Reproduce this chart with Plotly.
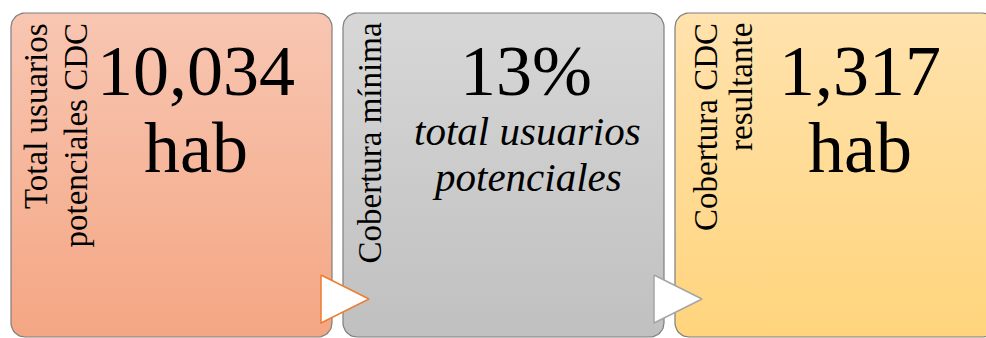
import numpy as np
import plotly.graph_objects as go

# diagram content
labels = [["Total usuarios", "potenciales CDC"],
          ["Cobertura mínima"],
          ["Cobertura CDC", "resultante"]]
values = ["10,034", "13%", "1,317"]
units = [["hab"], ["total usuarios", "potenciales"], ["hab"]]
unit_italic = [False, True, False]

# layout / style
W, H = 986, 338
box_left = [11, 343, 675]
box_w = 321
box_top, box_bottom = 13, 337
grad = [("#F8C6B2", "#F4A683"), ("#D7D7D7", "#C0C0C0"), ("#FFE2AD", "#FFD47C")]
arrow_x = [321, 654]
arrow_col = ["#ED7D31", "#A5A5A5"]
label_x = [[36, 75], [369], [706, 741]]
value_cx = [196, 526, 860]
FONT = "Liberation Serif, Times New Roman, serif"


def rounded_rect(x0, y0, x1, y1, r, n=14):
    xs, ys = [], []
    for cx, cy, a0 in [(x0 + r, y0 + r, 180), (x1 - r, y0 + r, 270),
                       (x1 - r, y1 - r, 0), (x0 + r, y1 - r, 90)]:
        t = np.radians(np.linspace(a0, a0 + 90, n))
        xs += list(cx + r * np.cos(t))
        ys += list(cy + r * np.sin(t))
    return xs + [xs[0]], ys + [ys[0]]


fig = go.Figure()

for i, x0 in enumerate(box_left):
    xs, ys = rounded_rect(x0, box_top, x0 + box_w, box_bottom, 14)
    fig.add_trace(go.Scatter(
        x=xs, y=ys, mode="lines", fill="toself",
        line=dict(color="#7F7F7F", width=1.2),
        fillgradient=dict(type="vertical",
                          colorscale=[[0, grad[i][0]], [1, grad[i][1]]],
                          start=box_top, stop=box_bottom),
        hoverinfo="skip", showlegend=False))

for x0, col in zip(arrow_x, arrow_col):
    fig.add_trace(go.Scatter(
        x=[x0, x0, x0 + 48, x0], y=[275, 323, 299, 275], mode="lines",
        fill="toself", fillcolor="white", line=dict(color=col, width=1.5),
        hoverinfo="skip", showlegend=False))

# vertical labels
for i, lines in enumerate(labels):
    for j, txt in enumerate(lines):
        fig.add_annotation(x=label_x[i][j], y=21, text=txt, textangle=-90,
                           xanchor="center", yanchor="top", showarrow=False,
                           font=dict(family=FONT, size=33, color="black"))

# big values and units
for i, v in enumerate(values):
    fig.add_annotation(x=value_cx[i], y=71, text=v, xanchor="center",
                       yanchor="middle", showarrow=False,
                       font=dict(family=FONT, size=72, color="black"))
    if unit_italic[i]:
        for j, u in enumerate(units[i]):
            fig.add_annotation(x=value_cx[i] + 1, y=131 + 45.5 * j,
                               text="<i>%s</i>" % u, xanchor="center",
                               yanchor="middle", showarrow=False,
                               borderpad=0, borderwidth=0,
                               font=dict(family=FONT, size=41, color="black"))
    else:
        fig.add_annotation(x=value_cx[i], y=148, text=units[i][0],
                           xanchor="center", yanchor="middle", showarrow=False,
                           font=dict(family=FONT, size=72, color="black"))

fig.update_xaxes(range=[0, W], visible=False, fixedrange=True)
fig.update_yaxes(range=[H, 0], visible=False, fixedrange=True)
fig.update_layout(width=W, height=H, margin=dict(l=0, r=0, t=0, b=0),
                  paper_bgcolor="white", plot_bgcolor="white",
                  hovermode=False)
fig.write_html("out.html", config={"displayModeBar": False},
               post_script="document.body.style.margin='0';"
                           "document.body.style.overflow='hidden';")
